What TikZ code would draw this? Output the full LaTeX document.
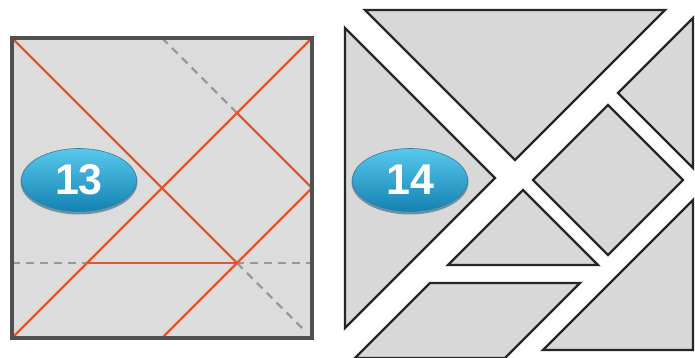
\documentclass[tikz,border=0pt]{standalone}
\usepackage{fontspec}
\setmainfont{Liberation Sans}
\usetikzlibrary{shapes.geometric}
\definecolor{panelfill}{HTML}{DCDCDC}
\definecolor{piecefill}{HTML}{D8D8D8}
\definecolor{framegray}{HTML}{505050}
\definecolor{cutorange}{HTML}{E4562A}
\definecolor{foldgray}{HTML}{999999}
\definecolor{pieceedge}{HTML}{262626}
\definecolor{ovaltop}{HTML}{58C8EC}
\definecolor{ovalbot}{HTML}{1482B2}
\definecolor{ovalrim}{HTML}{0C5A80}
\tikzset{
  frame/.style={draw=framegray, line width=3.2pt},
  cut/.style={draw=cutorange, line width=2.4pt},
  fold/.style={draw=foldgray, line width=2.3pt, dash pattern=on 8pt off 6pt},
  piece/.style={draw=pieceedge, line width=2.3pt, fill=piecefill, line join=miter},
  badge/.style={ellipse, minimum width=115pt, minimum height=63pt, inner sep=0pt,
    top color=ovaltop, bottom color=ovalbot, draw=ovalrim!80, line width=0.6pt,
    text=white, font=\fontsize{43}{43}\selectfont\bfseries},
  rim/.style={ellipse, minimum width=117pt, minimum height=65pt, inner sep=0pt,
    fill=ovalrim, opacity=0.55}
}
\begin{document}
\begin{tikzpicture}[x=1pt,y=1pt]
\useasboundingbox (0,0) rectangle (695,357);
\fill[white] (0,0) rectangle (695,357);
% ---------- panel 13 ----------
\begin{scope}[shift={(12pt,19pt)}, x=75pt, y=75pt]
  \coordinate (TL) at (0,4); \coordinate (TR) at (4,4);
  \coordinate (BL) at (0,0); \coordinate (BR) at (4,0);
  \coordinate (C) at (2,2); \coordinate (P33) at (3,3);
  \coordinate (P31) at (3,1); \coordinate (P11) at (1,1);
  \coordinate (RM) at (4,2); \coordinate (BM) at (2,0);
  \coordinate (TM) at (2,4); \coordinate (DE) at (3.9,0.1);
  \coordinate (LM1) at (0,1); \coordinate (RM1) at (4,1);
  \fill[panelfill] (BL) rectangle (TR);
  \draw[fold] (LM1) -- (RM1);
  \draw[fold] (TM) -- (P33);
  \draw[fold] (P31) -- (DE);
  \draw[cut] (TL) -- (P31);
  \draw[cut] (BL) -- (TR);
  \draw[cut] (P33) -- (RM) -- (BM);
  \draw[cut] (P11) -- (P31);
  \draw[frame] (BL) rectangle (TR);
\end{scope}
\node[rim] (r13) at (79,175) {};
\node[badge] (b13) at (79,177) {13};
% ---------- panel 14 ----------
\begin{scope}
\clip (0,0) rectangle (695,357);
\begin{scope}[shift={(365pt,47pt)}, x=75pt, y=75pt]
  \draw[piece] (0,4) -- (4,4) -- (2,2) -- cycle;
\end{scope}
\begin{scope}[shift={(345pt,29pt)}, x=75pt, y=75pt]
  \draw[piece] (0,4) -- (2,2) -- (0,0) -- cycle;
\end{scope}
\begin{scope}[shift={(393pt,39pt)}, x=75pt, y=75pt]
  \draw[piece] (4,4) -- (3,3) -- (4,2) -- cycle;
\end{scope}
\begin{scope}[shift={(383pt,27pt)}, x=75pt, y=75pt]
  \draw[piece] (3,3) -- (4,2) -- (3,1) -- (2,2) -- cycle;
\end{scope}
\begin{scope}[shift={(373pt,17pt)}, x=75pt, y=75pt]
  \draw[piece] (2,2) -- (3,1) -- (1,1) -- cycle;
\end{scope}
\begin{scope}[shift={(355pt,-1pt)}, x=75pt, y=75pt]
  \draw[piece] (1,1) -- (3,1) -- (2,0) -- (0,0) -- cycle;
\end{scope}
\begin{scope}[shift={(393pt,7pt)}, x=75pt, y=75pt]
  \draw[piece] (4,2) -- (4,0) -- (2,0) -- cycle;
\end{scope}
\end{scope}
\node[rim] (r14) at (410,175) {};
\node[badge] (b14) at (410,177) {14};
\end{tikzpicture}
\end{document}
